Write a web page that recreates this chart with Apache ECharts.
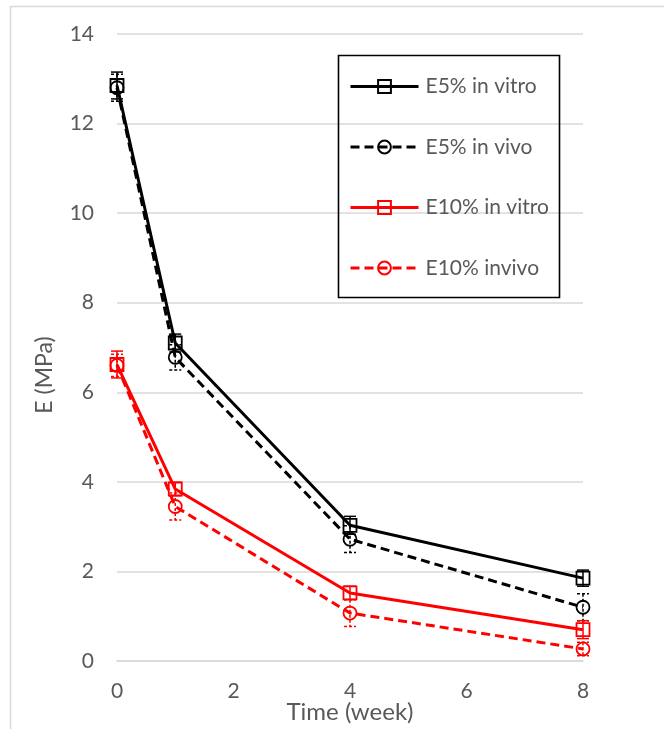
<!DOCTYPE html>
<html>
<head>
<meta charset="utf-8">
<script src="https://cdn.jsdelivr.net/npm/echarts@6/dist/echarts.min.js"></script>
<style>html,body{margin:0;padding:0;background:#fff;}#c{width:664px;height:729px;}</style>
</head>
<body>
<div id="c"></div>
<script>
const weeks = [0, 1, 4, 8];
const seriesNames = ['E5% in vitro', 'E5% in vivo', 'E10% in vitro', 'E10% invivo'];
const e5Vitro = [12.85, 7.1, 3.03, 1.85];
const e5Vivo = [12.8, 6.78, 2.72, 1.2];
const e10Vitro = [6.62, 3.84, 1.52, 0.7];
const e10Vivo = [6.6, 3.45, 1.07, 0.27];
const e5VitroErr = [0.3, 0.2, 0.2, 0.18];
const e5VivoErr = [0.3, 0.28, 0.3, 0.3];
const e10VitroErr = [0.3, 0.15, 0.15, 0.2];
const e10VivoErr = [0.25, 0.3, 0.3, 0.15];
const xTicks = [0, 2, 4, 6, 8];
const yTicks = [0, 2, 4, 6, 8, 10, 12, 14];

const FONT = 'Lato';
const TXT = '#595959';
const chart = echarts.init(document.getElementById('c'));

const defs = [
  { name: seriesNames[0], vals: e5Vitro, err: e5VitroErr, color: '#000000', dash: 'solid', symbol: 'rect' },
  { name: seriesNames[1], vals: e5Vivo, err: e5VivoErr, color: '#000000', dash: [9, 5], symbol: 'circle' },
  { name: seriesNames[2], vals: e10Vitro, err: e10VitroErr, color: '#ff0000', dash: 'solid', symbol: 'rect' },
  { name: seriesNames[3], vals: e10Vivo, err: e10VivoErr, color: '#ff0000', dash: [9, 5], symbol: 'circle' }
];

const series = [];
defs.forEach(d => {
  series.push({
    type: 'custom',
    name: d.name + ' err',
    silent: true,
    z: 3,
    data: weeks.map((w, i) => [w, d.vals[i], d.err[i]]),
    renderItem: function (params, api) {
      const x = api.value(0), y = api.value(1), e = api.value(2);
      const top = api.coord([x, y + e]);
      const bot = api.coord([x, y - e]);
      const hw = 6;
      const style = { stroke: d.color, lineWidth: 1.5, lineDash: d.dash === 'solid' ? null : [3, 2] };
      return {
        type: 'group',
        children: [
          { type: 'line', shape: { x1: top[0], y1: top[1], x2: bot[0], y2: bot[1] }, style: style },
          { type: 'line', shape: { x1: top[0] - hw, y1: top[1], x2: top[0] + hw, y2: top[1] }, style: style },
          { type: 'line', shape: { x1: bot[0] - hw, y1: bot[1], x2: bot[0] + hw, y2: bot[1] }, style: style }
        ]
      };
    }
  });
  series.push({
    type: 'line',
    name: d.name,
    z: 4,
    data: weeks.map((w, i) => [w, d.vals[i]]),
    symbol: d.symbol,
    symbolSize: 13,
    showAllSymbol: true,
    lineStyle: { color: d.color, width: 3, type: d.dash },
    itemStyle: { color: 'rgba(255,255,255,0)', borderColor: d.color, borderWidth: 1.8 },
    emphasis: { disabled: true },
    animation: false
  });
});

chart.setOption({
  animation: false,
  backgroundColor: '#ffffff',
  grid: { left: 117, right: 81, top: 34, bottom: 68, containLabel: false, outerBoundsMode: 'none' },
  xAxis: {
    type: 'value', min: 0, max: 8, interval: 2,
    name: 'Time (week)', nameLocation: 'middle', nameGap: 39, nameMoveOverlap: false,
    nameTextStyle: { fontFamily: FONT, fontSize: 24, color: TXT },
    axisLine: { show: true, lineStyle: { color: '#d9d9d9', width: 1.5 } },
    axisTick: { show: false },
    splitLine: { show: false },
    axisLabel: { fontFamily: FONT, fontSize: 21, color: TXT, margin: 20,
      formatter: v => xTicks.indexOf(v) >= 0 ? String(v) : '' }
  },
  yAxis: {
    type: 'value', min: 0, max: 14, interval: 2,
    axisLine: { show: false },
    axisTick: { show: false },
    splitLine: { show: true, lineStyle: { color: '#d9d9d9', width: 1.5 } },
    axisLabel: { fontFamily: FONT, fontSize: 21, color: TXT, margin: 23,
      formatter: v => yTicks.indexOf(v) >= 0 ? String(v) : '' }
  },
  legend: {
    orient: 'vertical',
    left: 339, top: 57,
    padding: [19, 8, 20, 10],
    itemWidth: 68, itemHeight: 16, itemGap: 39.5,
    lineStyle: { width: 3 },
    textStyle: { fontFamily: FONT, fontSize: 21, color: TXT, padding: [0, 0, 0, 2] },
    data: seriesNames.map(n => ({ name: n })),
    selectedMode: false
  },
  graphic: [
    { type: 'rect', z: 0, silent: true, shape: { x: 10.5, y: 6.5, width: 700, height: 800 },
      style: { fill: 'none', stroke: '#d9d9d9', lineWidth: 1.5 } },
    { type: 'rect', z: 100, silent: true, shape: { x: 338.5, y: 55.5, width: 221, height: 242 },
      style: { fill: 'none', stroke: '#000000', lineWidth: 1.6 } },
    { type: 'text', z: 100, silent: true, x: 45, y: 375, rotation: Math.PI / 2,
      style: { text: 'E (MPa)', fontFamily: FONT, fontSize: 23, fill: TXT, align: 'center', verticalAlign: 'middle' } }
  ],
  series: series
});
</script>
</body>
</html>
